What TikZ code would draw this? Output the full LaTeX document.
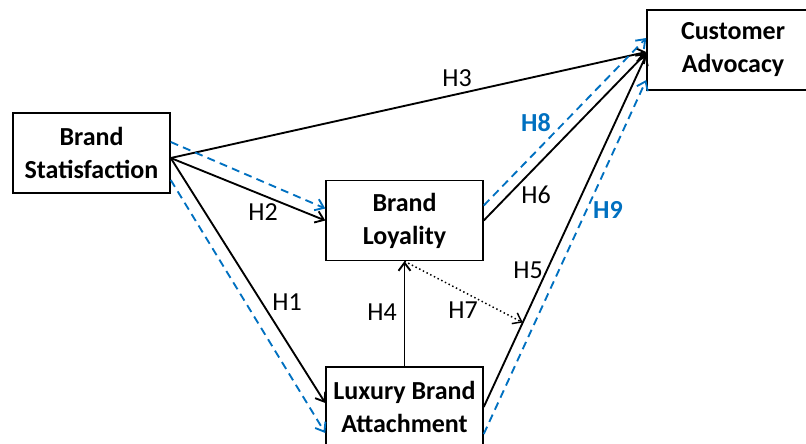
\documentclass[tikz,border=0pt]{standalone}
\usepackage{fontspec}
\setmainfont{Carlito}
\usepackage{tikz}
\usetikzlibrary{calc}
\usetikzlibrary{arrows.meta}
\definecolor{hypblue}{RGB}{0,112,192}
\tikzset{
  construct/.style={draw, line width=1.1pt, fill=white, align=center, font=\fontsize{19.5}{24.75}\selectfont\bfseries,
    minimum width=117.75pt, minimum height=60pt, inner sep=0pt},
  path/.style={->, line width=1.4pt},
  mediated/.style={->, hypblue, line width=1.4pt, dash pattern=on 6pt off 4pt},
  hyp/.style={font=\fontsize{19.5}{24}\selectfont},
  hypb/.style={font=\fontsize{19.5}{24}\selectfont\bfseries, text=hypblue}
}

\begin{document}
\begin{tikzpicture}[x=0.75pt, y=-0.75pt, >={Straight Barb[length=6pt,width=9pt]}]
    \useasboundingbox (0,0) rectangle (806,443);
    \begin{scope}
    \clip (0,0) rectangle (806,443);

    % constructs
    \node[construct] at (91.5, 153) (bs) {Brand\\Statisfaction};
    \node[construct] at (404.5, 220.5) (bl) {Brand\\Loyality};
    \node[construct] at (404.5, 407) (lba) {Luxury Brand\\Attachment};
    \node[construct, minimum width=129pt] at (733, 50) (ca) {Customer\\Advocacy};

    % direct paths
    \draw[path] ($(bs.east)+(0,5)$) -- ($(ca.west)+(0,2)$);
    \draw[path] ($(bs.east)+(0,5)$) -- (bl.west);
    \draw[path] ($(bs.east)+(0,5)$) -- ($(lba.west)+(0,-4)$);
    \draw[path] (lba.north) -- (bl.south);
    \draw[path] (bl.east) -- ($(ca.west)+(0,3)$);
    \draw[path] (lba.east) -- coordinate[pos=0.24] (h7end) ($(ca.west)+(0,5)$);
    \draw[->, line width=1.1pt, dotted] (bl.south) -- (h7end);

    % mediated paths
    \draw[mediated] ($(bs.east)+(0,-11)$) -- ($(bl.west)+(0,-12)$);
    \draw[mediated] ($(bs.east)+(0,27)$) -- ($(lba.west)+(0,26)$);
    \draw[mediated] ($(bl.east)+(0,-15)$) -- ($(ca.west)+(0,-12)$);
    \draw[mediated] ($(lba.east)+(0,27)$) -- ($(ca.west)+(0,30)$);
    \end{scope}

    % labels
    \node[hyp] at (457, 78) (h3) {H3};
    \node[hyp] at (263, 212) (h2) {H2};
    \node[hyp] at (287, 302) (h1) {H1};
    \node[hyp] at (382, 312) (h4) {H4};
    \node[hyp] at (463, 310) (h7) {H7};
    \node[hyp] at (528, 270) (h5) {H5};
    \node[hyp] at (536, 195) (h6) {H6};
    \node[hypb] at (536, 123) (h8) {H8};
    \node[hypb] at (608, 210) (h9) {H9};
\end{tikzpicture}
\end{document}
